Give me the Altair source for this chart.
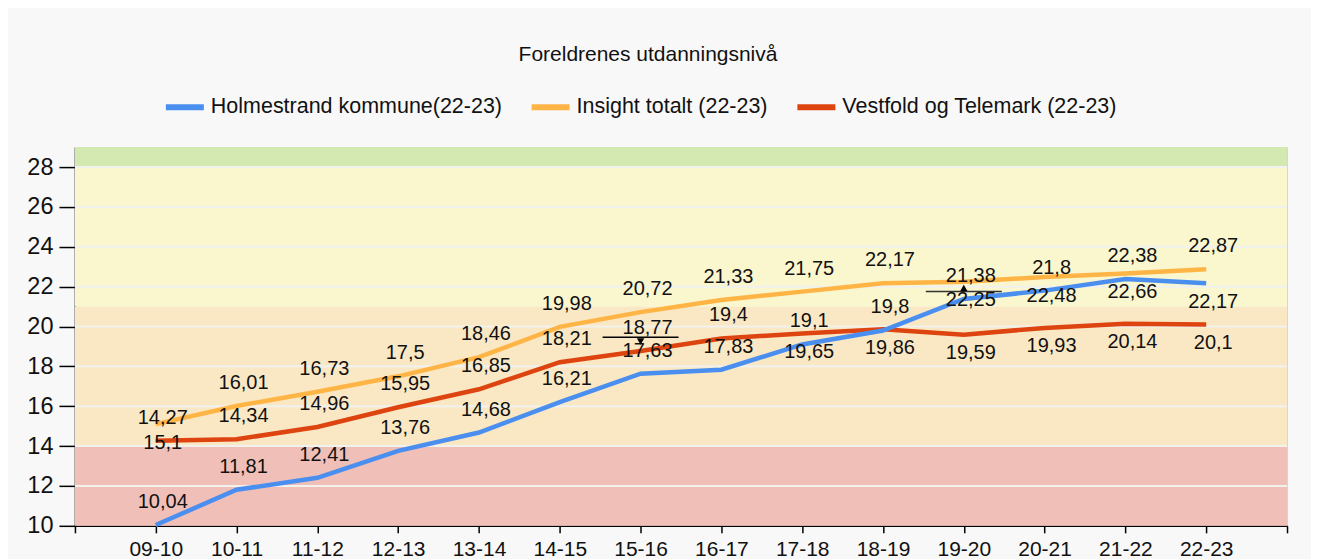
import json
import altair as alt
import pandas as pd

# ---------------- data ----------------
categories = ["09-10", "10-11", "11-12", "12-13", "13-14", "14-15", "15-16",
              "16-17", "17-18", "18-19", "19-20", "20-21", "21-22", "22-23"]

holmestrand = [10.04, 11.81, 12.41, 13.76, 14.68, 16.21, 17.63, 17.83, 19.1, 19.8,
               21.38, 21.8, 22.38, 22.17]
insight = [15.1, 16.01, 16.73, 17.5, 18.46, 19.98, 20.72, 21.33, 21.75, 22.17,
           22.25, 22.48, 22.66, 22.87]
vestfold = [14.27, 14.34, 14.96, 15.95, 16.85, 18.21, 18.77, 19.4, 19.65, 19.86,
            19.59, 19.93, 20.14, 20.1]

series_names = ["Holmestrand kommune(22-23)", "Insight totalt (22-23)",
                "Vestfold og Telemark (22-23)"]
series_colors = ["#4A8FF0", "#FFB446", "#DE4410"]

# label placement relative to the point: a = above, b = below
holmestrand_place = ["a"] * 13 + ["b"]
insight_place = ["b"] + ["a"] * 9 + ["b", "b", "b"] + ["a"]
vestfold_place = ["a"] * 8 + ["b"] * 6

band_lo = [10, 14, 21, 28]
band_hi = [14, 21, 28, 29]
band_colors = ["#F0C0B8", "#FAE8C4", "#FAF6CE", "#D4E8B2"]

y_ticks = [10, 12, 14, 16, 18, 20, 22, 24, 26, 28]
y_domain = [10, 29]
x_domain = [-1, 14]

FONT = "Liberation Sans"

# ---------------- tables ----------------
rows = []
for name, vals, places in [(series_names[2], vestfold, vestfold_place),
                           (series_names[1], insight, insight_place),
                           (series_names[0], holmestrand, holmestrand_place)]:
    for i, v in enumerate(vals):
        rows.append({"series": name, "idx": i, "value": v,
                     "label": str(v).replace(".", ","), "place": places[i]})
df = pd.DataFrame(rows)

bands = pd.DataFrame({"lo": band_lo, "hi": band_hi, "c": band_colors})
grid = pd.DataFrame({"v": [t for t in y_ticks if t > y_domain[0]]})

xs = alt.Scale(domain=x_domain, nice=False, zero=False)
ys = alt.Scale(domain=y_domain, nice=False, zero=False)

label_expr = ("datum.value >= 0 && datum.value < %d ? %s[datum.value] : ''"
              % (len(categories), json.dumps(categories)))

x_axis = alt.Axis(values=list(range(x_domain[0], x_domain[1] + 1)), labelExpr=label_expr,
                  title=None, grid=False, domainColor="#000", domainWidth=1.5,
                  tickColor="#000", tickWidth=1.5, tickSize=7, labelFontSize=21,
                  labelFont=FONT, labelColor="#111", labelPadding=6)
y_axis = alt.Axis(values=y_ticks, title=None, grid=False, domainColor="#000",
                  domainWidth=1.5, tickColor="#000", tickWidth=1.5, tickSize=16,
                  labelFontSize=23.5, labelFont=FONT, labelColor="#111", labelPadding=6)

band_layer = alt.Chart(bands).mark_rect().encode(
    x=alt.value(0), x2=alt.value("width"),
    y=alt.Y("lo:Q", scale=ys, axis=y_axis), y2="hi:Q",
    fill=alt.Fill("c:N", scale=None, legend=None),
)

grid_layer = alt.Chart(grid).mark_rule(color="#F1F1EE", strokeWidth=2).encode(
    y=alt.Y("v:Q", scale=ys),
)

color_scale = alt.Scale(domain=series_names, range=series_colors)

line_layer = alt.Chart(df).mark_line(strokeWidth=4.5).encode(
    x=alt.X("idx:Q", scale=xs, axis=x_axis),
    y=alt.Y("value:Q", scale=ys),
    color=alt.Color("series:N", scale=color_scale, sort=series_names,
                    legend=alt.Legend(title=None, orient="none", direction="horizontal",
                                      legendX=88, legendY=-62,
                                      symbolType="stroke", symbolSize=1444,
                                      symbolStrokeWidth=6, labelFontSize=21.5,
                                      labelFont=FONT, labelColor="#111", labelLimit=500,
                                      labelOffset=4, columnPadding=17)),
    order=alt.Order("series:N", sort="descending"),
)

text_common = dict(dx=7, fontSize=20, font=FONT, color="#111", baseline="middle")
above_layer = alt.Chart(df).transform_filter("datum.place == 'a'").mark_text(
    dy=-23, **text_common).encode(
    x=alt.X("idx:Q", scale=xs), y=alt.Y("value:Q", scale=ys), text="label:N")
below_layer = alt.Chart(df).transform_filter("datum.place == 'b'").mark_text(
    dy=18.5, **text_common).encode(
    x=alt.X("idx:Q", scale=xs), y=alt.Y("value:Q", scale=ys), text="label:N")

# smart-label callout markers seen in the reference
callouts = [
    (vestfold, 6, -13.7, "triangle-down", -9.5, "#000"),
    (holmestrand, 10, -7.6, "triangle-up", -11, "#333"),
]
callout_layers = []
for vals, i, rule_off, shape, tri_off, col in callouts:
    cd = pd.DataFrame({"idx": [i], "value": [vals[i]]})
    callout_layers.append(
        alt.Chart(cd).transform_calculate(xa="datum.idx - 0.47", xb="datum.idx + 0.47")
        .mark_rule(color=col, strokeWidth=1.5, yOffset=rule_off)
        .encode(x=alt.X("xa:Q", scale=xs), x2="xb:Q", y=alt.Y("value:Q", scale=ys)))
    callout_layers.append(
        alt.Chart(cd).mark_point(shape=shape, filled=True, size=55, color="#000",
                                 opacity=1, yOffset=tri_off)
        .encode(x=alt.X("idx:Q", scale=xs), y=alt.Y("value:Q", scale=ys)))

chart = alt.layer(band_layer, grid_layer, line_layer, *callout_layers,
                  above_layer, below_layer).properties(
    width=1213, height=379,
    title=alt.TitleParams(text="Foreldrenes utdanningsnivå", fontSize=21, font=FONT,
                          fontWeight="normal", color="#111", anchor="middle",
                          dx=-33, offset=20),
    autosize=alt.AutoSizeParams(type="none"),
    padding={"left": 67, "top": 139, "right": 24, "bottom": 33},
).configure(background="#F8F8F8").configure_view(stroke="#D6D6D6", strokeWidth=1)

chart.save("out.html", embed_options={"renderer": "svg", "actions": False})
